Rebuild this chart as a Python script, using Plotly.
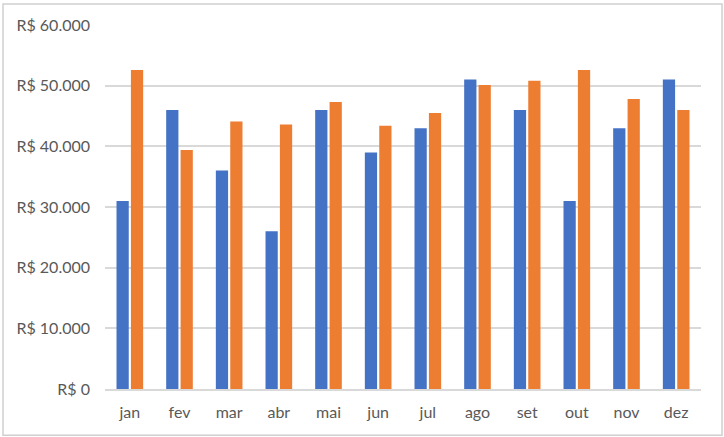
import plotly.graph_objects as go

# monthly values (R$)
MONTHS = ['jan', 'fev', 'mar', 'abr', 'mai', 'jun', 'jul', 'ago', 'set', 'out', 'nov', 'dez']
SERIES_A = [31000, 46000, 36000, 26000, 46000, 39000, 43000, 51000, 46000, 31000, 43000, 51000]
SERIES_B = [52600, 39400, 44100, 43600, 47300, 43400, 45500, 50100, 50800, 52600, 47800, 46000]
TICK_VALUES = [0, 10000, 20000, 30000, 40000, 50000, 60000]
TICK_LABELS = ['R$ 0', 'R$ 10.000', 'R$ 20.000', 'R$ 30.000', 'R$ 40.000', 'R$ 50.000', 'R$ 60.000']

BLUE = '#4472C4'
ORANGE = '#ED7D31'
GRID = '#D9D9D9'
TEXT = '#595959'

fig = go.Figure()
fig.add_trace(go.Bar(x=MONTHS, y=SERIES_A, marker=dict(color=BLUE, line=dict(width=0)), name='A'))
fig.add_trace(go.Bar(x=MONTHS, y=SERIES_B, marker=dict(color=ORANGE, line=dict(width=0)), name='B'))

fig.update_layout(
    width=724, height=437,
    margin=dict(l=105, r=23, t=25, b=48),
    paper_bgcolor='white', plot_bgcolor='white',
    barmode='group', bargap=0.42, bargroupgap=0.15,
    showlegend=False,
    font=dict(family='Lato, Open Sans, sans-serif', size=16, color=TEXT),
    hovermode=False,
)
fig.update_xaxes(showgrid=False, showline=True, linecolor=GRID, linewidth=2,
                 ticks='', ticklabelstandoff=8, tickfont=dict(size=16, color=TEXT))
fig.update_yaxes(range=[0, 60000], tickvals=TICK_VALUES, ticktext=TICK_LABELS,
                 showgrid=True, gridcolor=GRID, gridwidth=2, zeroline=False,
                 showline=False, ticks='', ticklabelstandoff=14,
                 tickfont=dict(size=16, color=TEXT))

# chart frame like the spreadsheet object border
fig.add_shape(type='rect', xref='paper', yref='paper',
              x0=-102/596, x1=1 + 21/596, y0=-46/363, y1=1 + 21/363,
              line=dict(color='#D0D0D0', width=1.5), layer='below')

fig.write_html('out.html', config={'displayModeBar': False},
               post_script="document.body.style.margin='0';")
